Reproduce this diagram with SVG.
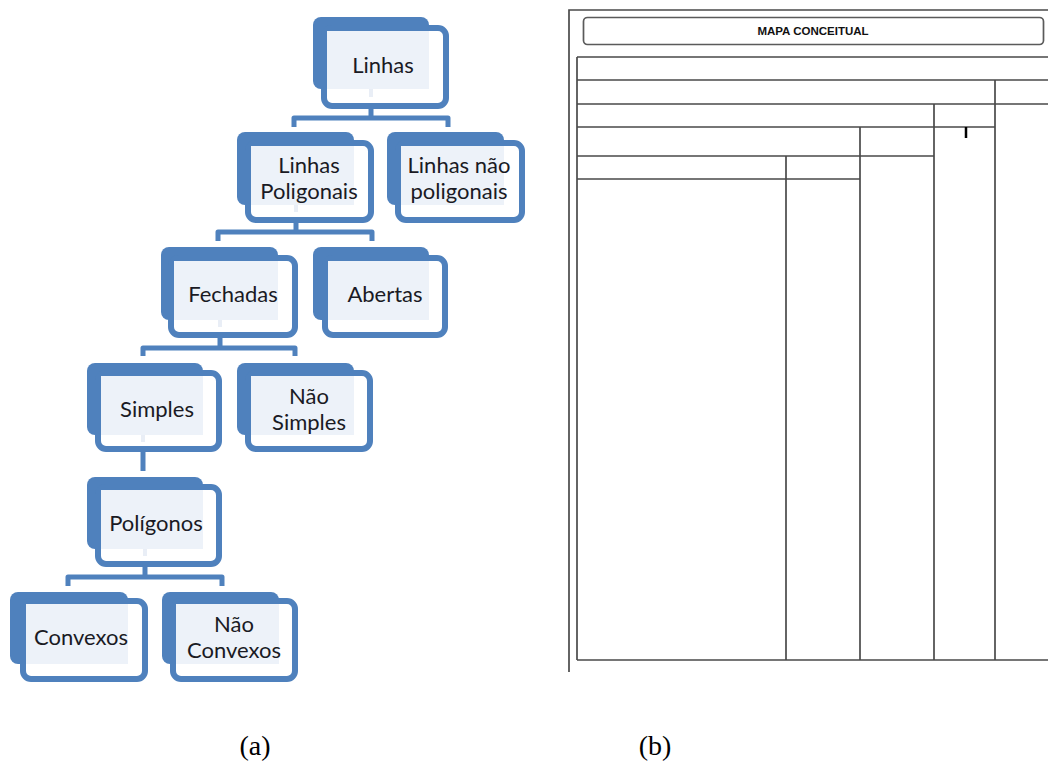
<svg xmlns="http://www.w3.org/2000/svg" width="1048" height="762" viewBox="0 0 1048 762">
<style>
.back{fill:#4F81BD}
.front{fill:#FFFFFF;stroke:#4F81BD;stroke-width:6}
.lite{fill:#EDF2F9}
.lbl{font-family:Lato,"Open Sans",sans-serif;font-size:22px;fill:#1A1A24;text-anchor:middle}
.conn{fill:none;stroke:#4F81BD;stroke-width:5;stroke-linejoin:round;stroke-linecap:butt}
.stub{stroke:#E9EEF6;stroke-width:4}
.tbl{stroke:#4A4A4A;stroke-width:1.7;fill:none}
.cap{font-family:"Liberation Serif","Times New Roman",serif;font-size:28px;fill:#000;text-anchor:middle}
</style>
<rect width="1048" height="762" fill="#FFFFFF"/>

<g id="connectors">
<path class="conn" d="M371,109 V118 M294,127 V118 H448 V127"/>
<path class="conn" d="M296,223 V232 M218,241 V232 H372 V241"/>
<path class="conn" d="M220,338 V348 M143,356 V348 H295 V356"/>
<path class="conn" d="M143,452 V471"/>
<path class="conn" d="M145,567 V577 M68,586 V577 H222 V586"/>
</g>

<g id="node-linhas">
<rect class="back" x="313" y="17" width="116" height="72" rx="8"/>
<rect class="front" x="324" y="28" width="122" height="78" rx="8"/>
<rect class="lite" x="327" y="31" width="102" height="58"/>
<line class="stub" x1="371" y1="89" x2="371" y2="97"/>
<text class="lbl" x="383" y="73">Linhas</text>
</g>

<g id="node-linhas-poligonais">
<rect class="back" x="237" y="132" width="117" height="73" rx="8"/>
<rect class="front" x="248" y="143" width="123" height="77" rx="8"/>
<rect class="lite" x="251" y="146" width="103" height="59"/>
<line class="stub" x1="296" y1="205" x2="296" y2="212"/>
<text class="lbl" x="309" y="173">Linhas</text>
<text class="lbl" x="309" y="199">Poligonais</text>
</g>

<g id="node-linhas-nao-poligonais">
<rect class="back" x="387" y="132" width="117" height="73" rx="8"/>
<rect class="front" x="398" y="143" width="124" height="77" rx="8"/>
<rect class="lite" x="401" y="146" width="103" height="59"/>
<text class="lbl" x="459" y="173">Linhas não</text>
<text class="lbl" x="459" y="199">poligonais</text>
</g>

<g id="node-fechadas">
<rect class="back" x="161" y="247" width="117" height="73" rx="8"/>
<rect class="front" x="171" y="258" width="124" height="77" rx="8"/>
<rect class="lite" x="174" y="261" width="104" height="59"/>
<line class="stub" x1="220" y1="320" x2="220" y2="327"/>
<text class="lbl" x="233" y="302">Fechadas</text>
</g>

<g id="node-abertas">
<rect class="back" x="313" y="247" width="116" height="73" rx="8"/>
<rect class="front" x="325" y="258" width="120" height="77" rx="8"/>
<rect class="lite" x="328" y="261" width="101" height="59"/>
<text class="lbl" x="385" y="302">Abertas</text>
</g>

<g id="node-simples">
<rect class="back" x="87" y="363" width="116" height="72" rx="8"/>
<rect class="front" x="98" y="373" width="121" height="76" rx="8"/>
<rect class="lite" x="101" y="376" width="102" height="59"/>
<line class="stub" x1="143" y1="435" x2="143" y2="442"/>
<text class="lbl" x="157" y="417">Simples</text>
</g>

<g id="node-nao-simples">
<rect class="back" x="237" y="363" width="117" height="72" rx="8"/>
<rect class="front" x="248" y="373" width="122" height="76" rx="8"/>
<rect class="lite" x="251" y="376" width="103" height="59"/>
<text class="lbl" x="309" y="404">Não</text>
<text class="lbl" x="309" y="430">Simples</text>
</g>

<g id="node-poligonos">
<rect class="back" x="87" y="477" width="116" height="72" rx="8"/>
<rect class="front" x="98" y="487" width="121" height="77" rx="8"/>
<rect class="lite" x="101" y="490" width="102" height="59"/>
<line class="stub" x1="145" y1="549" x2="145" y2="556"/>
<text class="lbl" x="156" y="531">Polígonos</text>
</g>

<g id="node-convexos">
<rect class="back" x="10" y="592" width="118" height="72" rx="8"/>
<rect class="front" x="23" y="601" width="122" height="78" rx="8"/>
<rect class="lite" x="26" y="604" width="102" height="60"/>
<text class="lbl" x="81" y="645">Convexos</text>
</g>

<g id="node-nao-convexos">
<rect class="back" x="162" y="592" width="117" height="72" rx="8"/>
<rect class="front" x="173" y="601" width="122" height="78" rx="8"/>
<rect class="lite" x="176" y="604" width="103" height="60"/>
<text class="lbl" x="234" y="632">Não</text>
<text class="lbl" x="234" y="658">Convexos</text>
</g>

<g id="panel-b">
<path class="tbl" d="M569,672 V10 H1048"/>
<rect x="583.5" y="17.5" width="460" height="27" rx="4" fill="#FFFFFF" stroke="#5A5A5A" stroke-width="1.7"/>
<text x="813" y="35" font-family="'Liberation Sans',Arial,sans-serif" font-weight="bold" font-size="11.5" text-anchor="middle" fill="#111">MAPA CONCEITUAL</text>
<path class="tbl" d="M577,57 H1048 M577,80 H1048 M577,104 H1048 M577,127 H995 M577,156 H934 M577,179 H860 M577,660 H1048 M577,57 V660 M995,80 V660 M934,104 V660 M860,127 V660 M786,156 V660"/>
<line x1="966" y1="127" x2="966" y2="138" stroke="#000" stroke-width="2.5"/>
</g>

<text class="cap" x="255" y="755">(a)</text>
<text class="cap" x="655" y="755">(b)</text>
</svg>
